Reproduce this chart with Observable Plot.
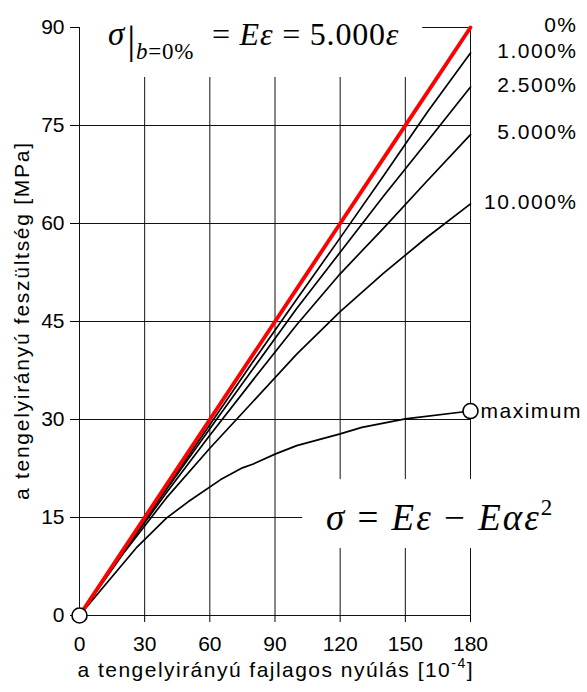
<!DOCTYPE html>
<html>
<head>
<meta charset="utf-8">
<script src="https://cdn.jsdelivr.net/npm/d3@7"></script>
<script src="https://cdn.jsdelivr.net/npm/@observablehq/plot@0.6"></script>
<style>
  body { margin: 0; background: #fff; }
</style>
</head>
<body>
<div id="chart"></div>
<script>
// ---- data (strain in 1e-4, stress in MPa) ----
const strain = [0, 20, 40, 60, 80, 100, 120, 140, 160, 180];
const stress0 = [0, 10, 20, 30, 40, 50, 60, 70, 80, 90];
const stress1 = [0, 9.8, 19.5, 29.2, 38.9, 48.4, 57.8, 67.3, 77.0, 86.1];
const stress25 = [0, 9.7, 19.3, 28.6, 37.8, 47.0, 55.6, 64.2, 72.5, 80.9];
const stress5 = [0, 9.6, 18.8, 27.6, 36.1, 44.5, 52.3, 59.3, 66.5, 73.6];
const stress10 = [0, 9.4, 18.0, 25.6, 32.8, 40.0, 46.5, 52.4, 57.9, 63.0];
const maxStrain = [0, 26, 40, 50, 65, 75, 80, 90, 100, 120, 130, 150, 180];
const maxStress = [0, 10.3, 14.9, 17.4, 20.8, 22.6, 23.2, 24.7, 26.0, 27.8, 28.8, 30.1, 31.3];
const seriesNames = ["0%", "1.000%", "2.500%", "5.000%", "10.000%"];
const maxName = "maximum";
const xTicks = [0, 30, 60, 90, 120, 150, 180];
const yTicks = [0, 15, 30, 45, 60, 75, 90];
const xLabel = "a tengelyirányú fajlagos nyúlás [10-4]";
const yLabel = "a tengelyirányú feszültség [MPa]";

// annotation boxes behind the formulas (data units)
const formulaBoxes = [
  {x1: 0, x2: 158, y1: 82.35, y2: 90},
  {x1: 102.7, x2: 225, y1: 10.26, y2: 20.8}
];
const formulaAnchors = [{x: 13.4, y: 87.25}, {x: 113.7, y: 13.0}];

// ---- tables ----
const curves = [stress0, stress1, stress25, stress5, stress10];
const rows = curves.flatMap((arr, i) => arr.map((v, j) => ({strain: strain[j], stress: v, series: seriesNames[i]})));
const redRows = rows.filter(d => d.series === seriesNames[0]);
const blackRows = rows.filter(d => d.series !== seriesNames[0]);
const maxRows = maxStrain.map((s, j) => ({strain: s, stress: maxStress[j]}));
const ends = curves.map((arr, i) => ({strain: strain[strain.length - 1], stress: arr[arr.length - 1], name: seriesNames[i]}));
const circles = [maxRows[0], maxRows[maxRows.length - 1]];

const plot = Plot.plot({
  width: 587,
  height: 692,
  marginLeft: 79,
  marginRight: 117,
  marginTop: 27,
  marginBottom: 77,
  x: {domain: [0, 180]},
  y: {domain: [0, 90]},
  style: {fontFamily: "'Liberation Sans', Arial, sans-serif", fontSize: "21px", color: "#000", background: "#fff"},
  marks: [
    Plot.ruleX(xTicks.filter(d => d > 0), {stroke: "#111", strokeWidth: 1}),
    Plot.ruleY(yTicks.filter(d => d > 0), {stroke: "#111", strokeWidth: 1}),
    Plot.rect(formulaBoxes, {x1: "x1", x2: "x2", y1: "y1", y2: "y2", fill: "#fff"}),
    Plot.ruleX([0], {stroke: "#111", strokeWidth: 1}),
    Plot.ruleY([0], {stroke: "#111", strokeWidth: 1}),
    Plot.axisX({ticks: xTicks, tickSize: 7, tickPadding: 14, label: null, fontSize: 21, tickFormat: d => String(d)}),
    Plot.axisY({ticks: yTicks, tickSize: 9, tickPadding: 6, label: null, fontSize: 21, tickFormat: d => String(d)}),
    Plot.line(blackRows, {x: "strain", y: "stress", z: "series", stroke: "#000", strokeWidth: 1.7}),
    Plot.line(maxRows, {x: "strain", y: "stress", stroke: "#000", strokeWidth: 1.7}),
    Plot.line(redRows, {x: "strain", y: "stress", stroke: "#ff0000", strokeWidth: 3.8}),
    Plot.dot(circles, {x: "strain", y: "stress", r: 7.5, fill: "#fff", stroke: "#000", strokeWidth: 1.6}),
    Plot.text(ends, {x: "strain", y: "stress", text: "name", textAnchor: "end", dx: 107, dy: -2, fontSize: 21, fill: "#000"}),
    Plot.text([circles[1]], {x: "strain", y: "stress", text: () => maxName, textAnchor: "start", dx: 10, fontSize: 21, fill: "#000"}),
    Plot.text([xLabel], {frameAnchor: "bottom", textAnchor: "middle", dy: 61, text: d => d, fontSize: 21, fill: "#000"}),
    Plot.text([yLabel], {frameAnchor: "left", textAnchor: "middle", rotate: -90, dx: -57, text: d => d, fontSize: 21, fill: "#000"})
  ]
});

document.getElementById("chart").appendChild(plot);

const NS = "http://www.w3.org/2000/svg";
for (const t of plot.querySelectorAll("text")) {
  const s = t.textContent;
  if (s === xLabel) {
    t.textContent = "a tengelyirányú fajlagos nyúlás [10";
    const sup = document.createElementNS(NS, "tspan");
    sup.textContent = "-4";
    sup.setAttribute("font-size", "14");
    sup.setAttribute("dy", "-9");
    t.appendChild(sup);
    const close = document.createElementNS(NS, "tspan");
    close.textContent = "]";
    close.setAttribute("dy", "9");
    t.appendChild(close);
    t.setAttribute("textLength", "395");
    t.setAttribute("lengthAdjust", "spacing");
  } else if (s === yLabel) {
    t.setAttribute("textLength", "357");
    t.setAttribute("lengthAdjust", "spacing");
  } else if (seriesNames.includes(s) || s === maxName) {
    t.setAttribute("letter-spacing", "1.5");
  }
}

// formulas as rich text positioned through the plot's scales
const sx = plot.scale("x"), sy = plot.scale("y");
function rich(anchor, size, spacing, parts) {
  const t = document.createElementNS(NS, "text");
  t.setAttribute("x", sx.apply(anchor.x));
  t.setAttribute("y", sy.apply(anchor.y));
  t.setAttribute("text-anchor", "start");
  t.setAttribute("font-family", "'Liberation Serif', 'Times New Roman', serif");
  t.setAttribute("font-size", size);
  t.setAttribute("letter-spacing", spacing);
  t.setAttribute("fill", "#000");
  t.setAttribute("style", "white-space:pre");
  for (const p of parts) {
    const s = document.createElementNS(NS, "tspan");
    s.textContent = p.t;
    if (p.i) s.setAttribute("font-style", "italic");
    if (p.size) s.setAttribute("font-size", p.size);
    if (p.dy) s.setAttribute("dy", p.dy);
    if (p.dx) s.setAttribute("dx", p.dx);
    t.appendChild(s);
  }
  plot.appendChild(t);
}
rich(formulaAnchors[0], 32, 0.8, [
  {t: "σ", i: true, size: 33},
  {t: "|", size: 40, dy: 8, dx: 2},
  {t: "b", i: true, size: 23, dy: 6},
  {t: "=0%", size: 23},
  {t: "  = ", size: 32, dy: -14},
  {t: "Eε", i: true},
  {t: " = 5.000"},
  {t: "ε", i: true}
]);
rich(formulaAnchors[1], 37, 2, [
  {t: "σ", i: true},
  {t: " = "},
  {t: "Eε", i: true},
  {t: " − "},
  {t: "Eαε", i: true},
  {t: "2", size: 23, dy: -15}
]);
</script>
</body>
</html>
